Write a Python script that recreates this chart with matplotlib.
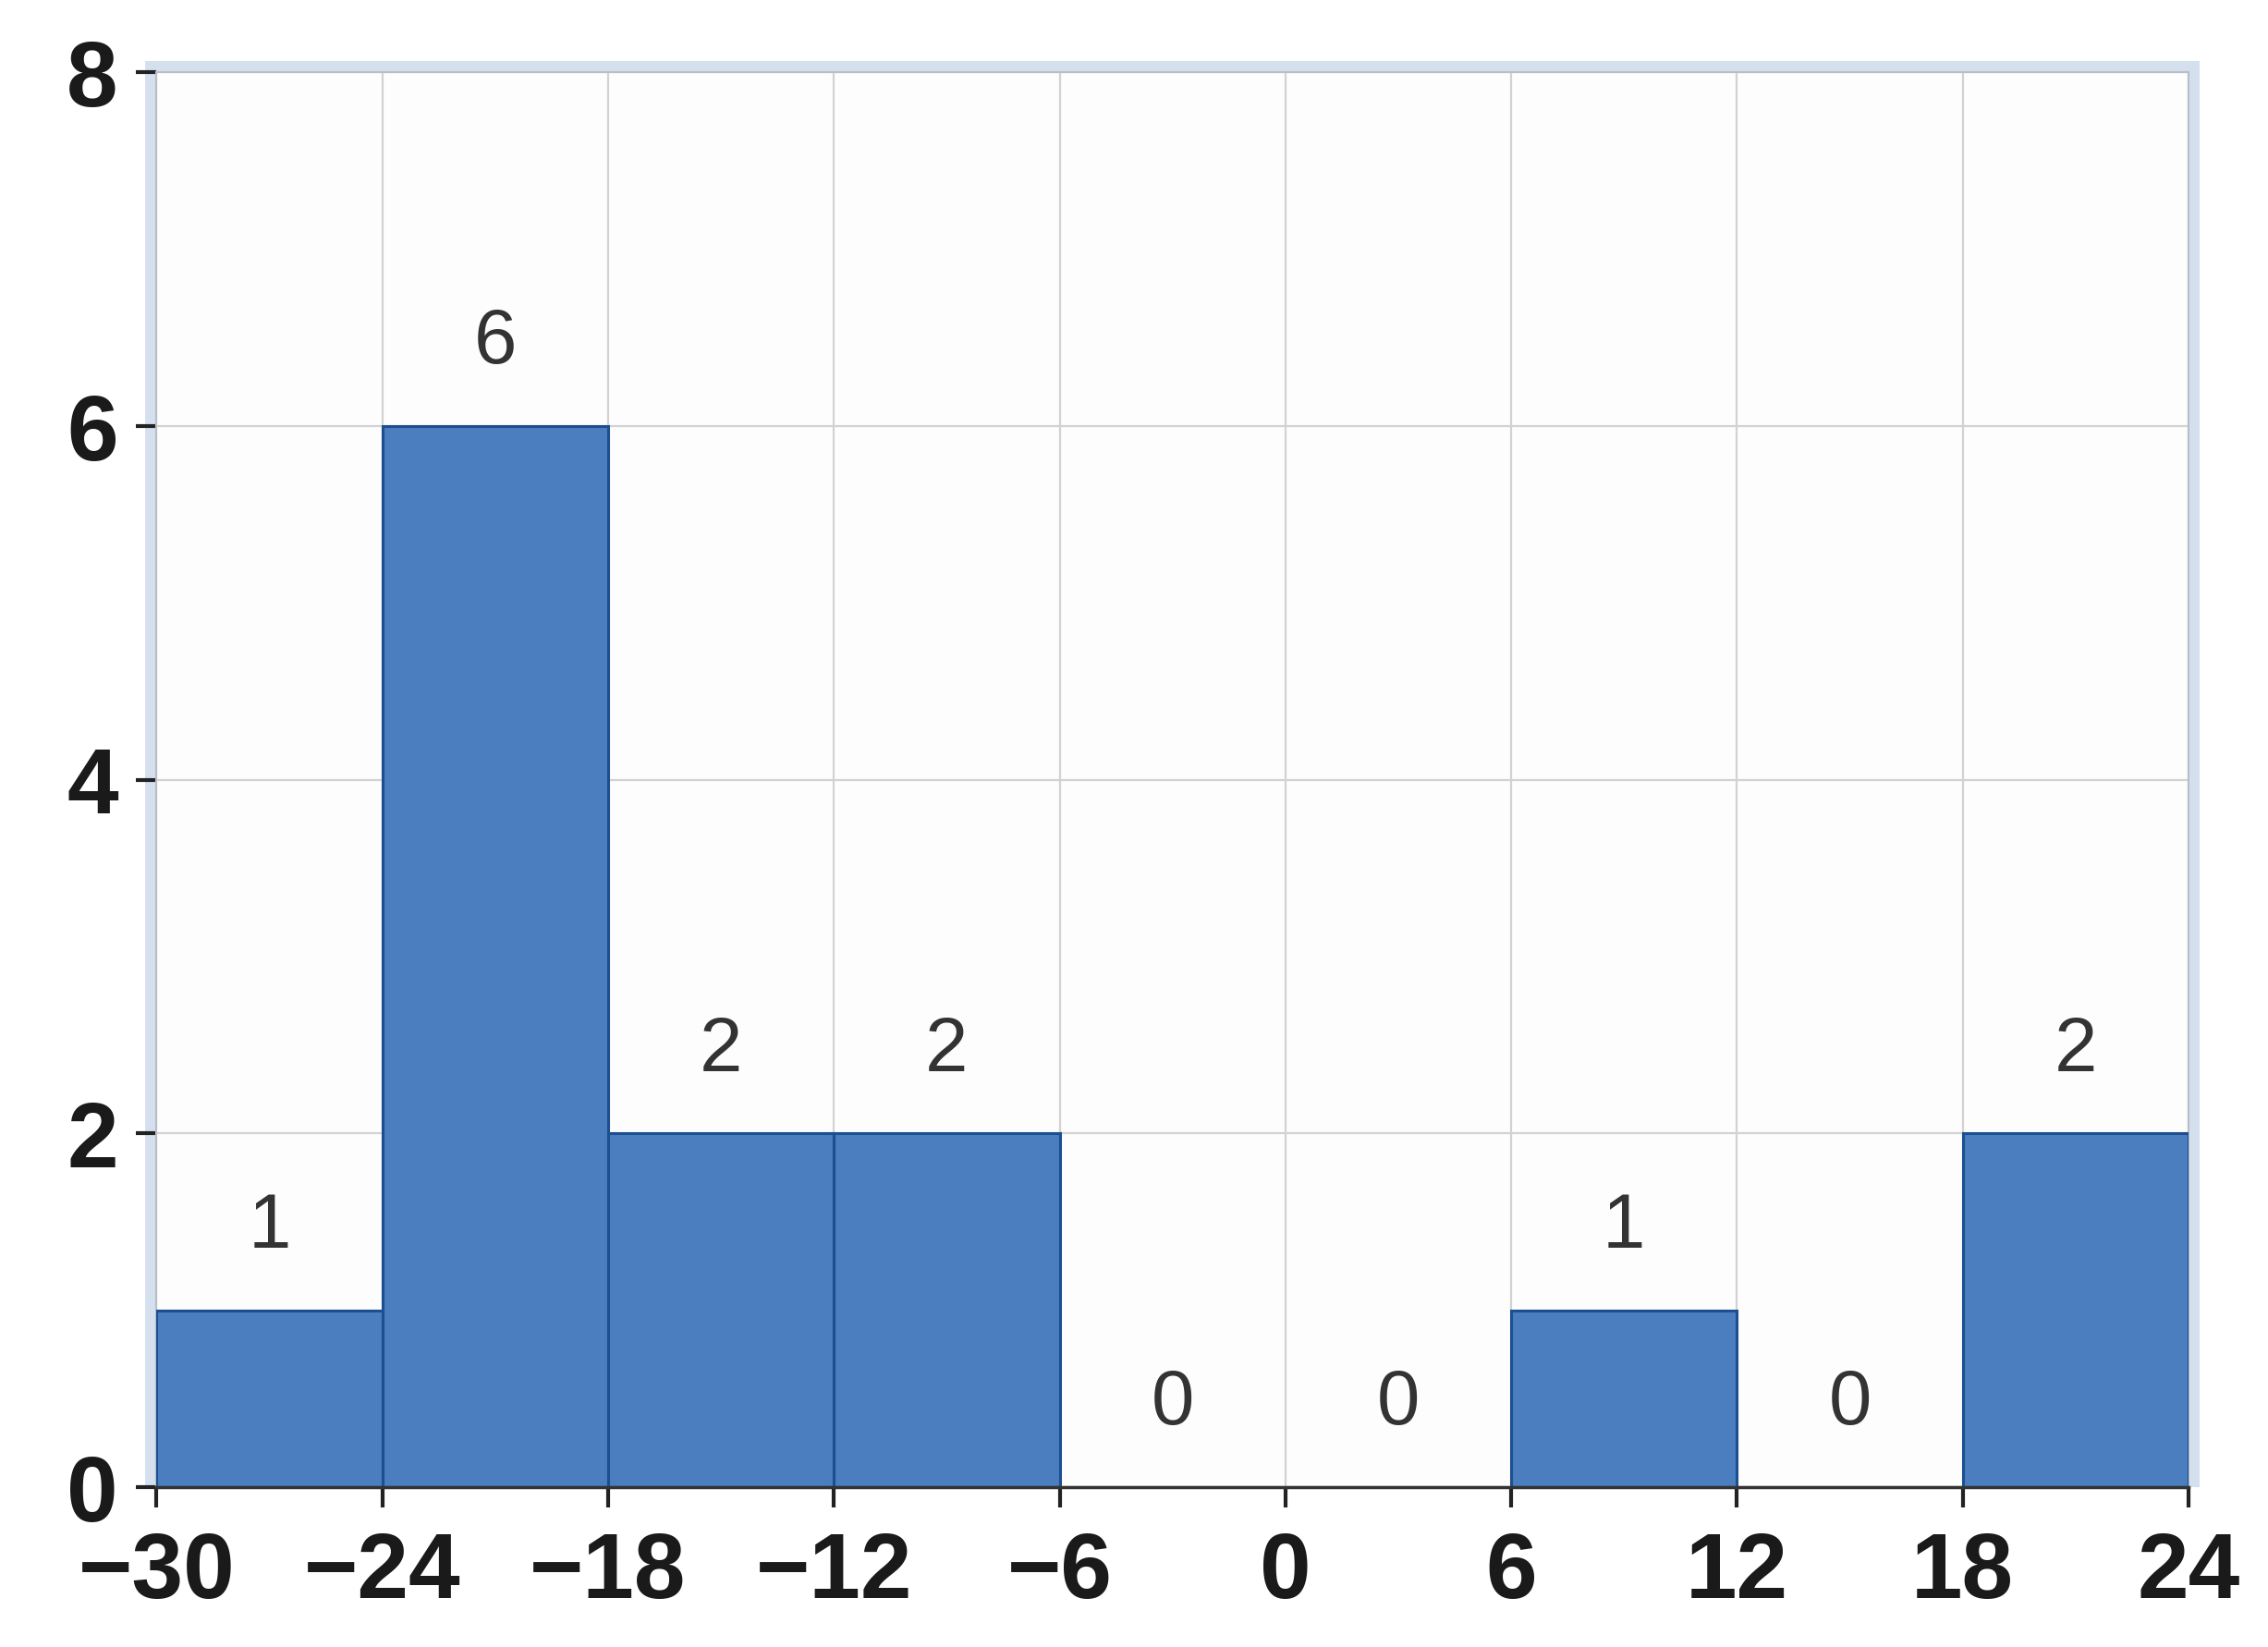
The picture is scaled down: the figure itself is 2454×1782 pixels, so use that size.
import numpy as np
import matplotlib.pyplot as plt
from matplotlib.patches import Rectangle

# histogram bins and counts
bin_edges = [-30, -24, -18, -12, -6, 0, 6, 12, 18, 24]
counts = [1, 6, 2, 2, 0, 0, 1, 0, 2]
y_ticks = [0, 2, 4, 6, 8]
x_tick_labels = ["\u221230", "\u221224", "\u221218", "\u221212", "\u22126", "0", "6", "12", "18", "24"]

bar_color = "#4a7ebe"
edge_color = "#1c4f8f"

fig = plt.figure(figsize=(24.54, 17.82), dpi=100)
fig.patch.set_facecolor("white")
ax = fig.add_axes([0.069, 0.097, 0.896, 0.859])
ax.set_facecolor("#fdfdfd")

lefts = bin_edges[:-1]
widths = np.diff(bin_edges)
ax.bar(lefts, counts, width=widths, align="edge", color=bar_color,
       edgecolor=edge_color, linewidth=2.2, zorder=3)

for x0, w, c in zip(lefts, widths, counts):
    ax.text(x0 + w / 2, c + 0.47, str(c), ha="center", va="center",
            fontsize=60, color="#333333", family=["Liberation Sans", "DejaVu Sans"], zorder=4)

ax.set_xlim(bin_edges[0], bin_edges[-1])
ax.set_ylim(0, 8)
ax.set_xticks(bin_edges)
ax.set_xticklabels(x_tick_labels)
ax.set_yticks(y_ticks)

ax.grid(True, color="#d2d2d2", linewidth=1.6, zorder=0)
ax.set_axisbelow(True)

for side in ["left", "top", "right"]:
    ax.spines[side].set_color("#b9bdc8")
    ax.spines[side].set_linewidth(1.5)
ax.spines["bottom"].set_color("#333333")
ax.spines["bottom"].set_linewidth(2.5)
ax.spines["bottom"].set_zorder(5)

# light blue frame band around plot area
band = "#d5e0ef"
bw = 0.0055
bh = 0.0078
ax.add_patch(Rectangle((-bw, 0), bw, 1 + bh, transform=ax.transAxes,
                       facecolor=band, edgecolor="none", clip_on=False, zorder=0))
ax.add_patch(Rectangle((-bw, 1), 1 + 2 * bw, bh, transform=ax.transAxes,
                       facecolor=band, edgecolor="none", clip_on=False, zorder=0))
ax.add_patch(Rectangle((1, 0), bw, 1 + bh, transform=ax.transAxes,
                       facecolor=band, edgecolor="none", clip_on=False, zorder=0))

tick_font = ["Liberation Sans Narrow", "Liberation Sans", "DejaVu Sans"]
ax.tick_params(axis="both", direction="out", length=16, width=3, color="#222222")
ax.tick_params(axis="x", pad=18)
ax.tick_params(axis="y", pad=14)
for lab in ax.get_xticklabels():
    lab.set_family(tick_font)
    lab.set_fontweight("bold")
    lab.set_fontsize(72)
    lab.set_color("#1a1a1a")
for lab in ax.get_yticklabels():
    lab.set_family(tick_font)
    lab.set_fontweight("bold")
    lab.set_fontsize(72)
    lab.set_color("#1a1a1a")

fig.savefig("out.png", dpi=100)
